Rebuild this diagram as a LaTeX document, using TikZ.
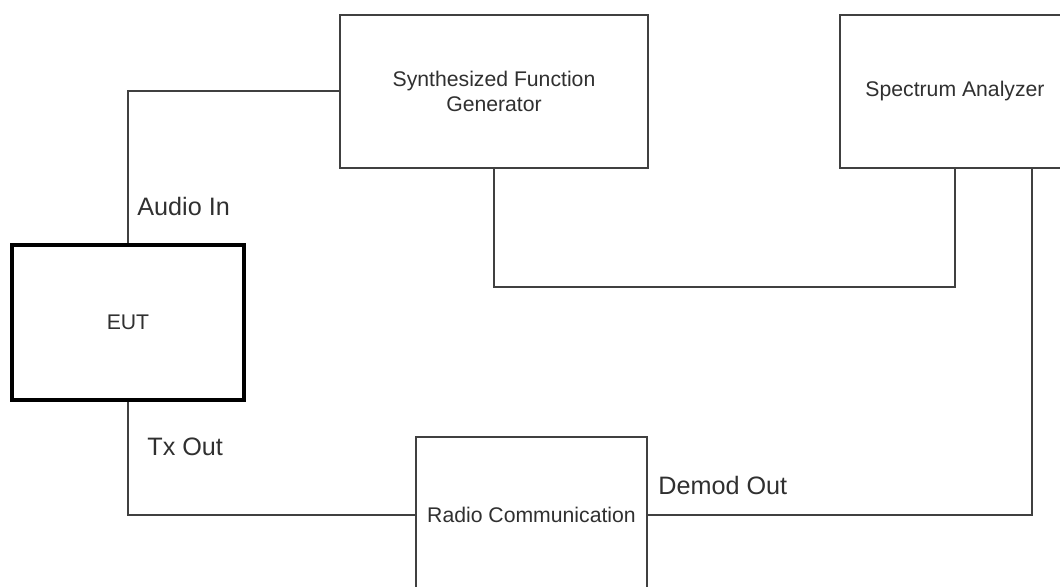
\documentclass[tikz,border=0pt]{standalone}
\usepackage{fontspec}
\setmainfont{Liberation Sans}
\usetikzlibrary{calc}

\definecolor{wirecol}{HTML}{404040}
\definecolor{textcol}{HTML}{303030}

\tikzset{
  unit/.style={draw=wirecol, line width=1pt, fill=white, text=textcol,
    font=\fontsize{10.6}{12.5}\selectfont, align=center, inner sep=0pt},
  eutbox/.style={unit, draw=black, line width=2.2pt},
  portlabel/.style={anchor=west, text=textcol, inner sep=0pt,
    font=\fontsize{12.6}{14}\selectfont},
  wire/.style={draw=wirecol, line width=1pt}
}

\begin{document}
\begin{tikzpicture}[x=0.5pt, y=-0.5pt]

% page frame (pixel grid of the original sketch)
\useasboundingbox (0,0) rectangle (1060,587);
\clip (0,0) rectangle (1060,587);

% === Units ===
\node[eutbox, minimum width=116pt, minimum height=77.5pt] (eut) at (128,322.5) {EUT};
\node[unit, minimum width=154pt, minimum height=76.5pt] (sfg) at (494,91.5)
  {Synthesized Function\\Generator};
\node[unit, minimum width=115pt, minimum height=76.5pt] (sa) at (955,91.5)
  {Spectrum Analyzer};
\node[unit, minimum width=115.5pt, minimum height=78pt] (radio) at (531.5,515)
  {Radio Communication};

% helper points for the wiring
\coordinate (loop) at (725,287);
\coordinate (saout) at ($(sa.south)+(77,0)$);

% === Wiring ===
\draw[wire] (eut.north) |- (sfg.west);
\draw[wire] (sfg.south) |- (loop) -| (sa.south);
\draw[wire] (eut.south) |- (radio.west);
\draw[wire] (radio.east) -| (saout);

% === Port labels ===
\node[portlabel] (audioin) at (137,206) {Audio In};
\node[portlabel] (txout) at (147,447) {Tx Out};
\node[portlabel] (demodout) at (658,485) {Demod Out};

\end{tikzpicture}
\end{document}
